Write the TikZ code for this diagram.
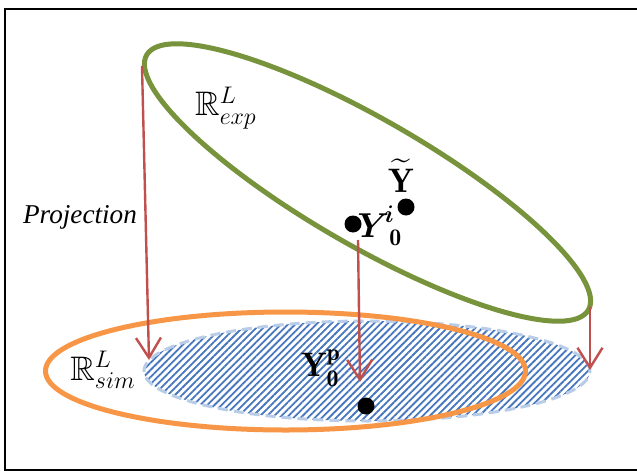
\documentclass[tikz,border=0pt]{standalone}
\usepackage{amsmath}
\usepackage{amssymb}
\usepackage{fontspec}
\newfontfamily\projfont{Liberation Serif}
\usetikzlibrary{arrows.meta,patterns.meta,positioning}
\definecolor{expgreen}{RGB}{119,147,60}
\definecolor{simorange}{RGB}{247,150,70}
\definecolor{projred}{RGB}{192,80,77}
\definecolor{hatchblue}{RGB}{70,118,190}
\definecolor{edgeblue}{RGB}{185,205,232}

\begin{document}
\begin{tikzpicture}[x=0.5pt,y=-0.5pt,
    proj/.style={projred,line width=1.2pt,-{Straight Barb[length=10pt,width=12.5pt]}},
    dot/.style={circle,fill=black,inner sep=0pt,minimum size=8.5pt},
    lab/.style={font=\fontsize{17}{20}\selectfont,inner sep=1pt}]
  \useasboundingbox (0,0) rectangle (637,471);
  \draw[line width=1pt] (5,9) rectangle (645,470);
  % simulated subspace
  \path[pattern={Lines[angle=45,distance=2.5pt,line width=0.9pt]},pattern color=hatchblue]
    (367,371) ellipse [x radius=111.5pt,y radius=25pt];
  \draw[edgeblue,line width=1.5pt,dash pattern=on 5pt off 3pt]
    (367,371) ellipse [x radius=111.5pt,y radius=25pt];
  \draw[simorange,line width=2.5pt] (285.5,371) ellipse [x radius=120pt,y radius=29.5pt];
  % experimental subspace
  \draw[expgreen,line width=2.5pt,rotate around={-30:(367.5,182.5)}]
    (367.5,182.5) ellipse [x radius=127.5pt,y radius=31.5pt];
  \node[lab] (rexp) at (226,108) {$\mathbb{R}^L_{exp}$};
  \node[lab] (rsim) at (103,370) {$\mathbb{R}^L_{sim}$};
  \node[dot] (y0i) at (353,224) {};
  \node[lab,inner sep=0pt,right=-2.5pt of y0i,yshift=-1pt] (y0ilab)
    {$\boldsymbol{Y}^{\mkern-4mu\boldsymbol{i}}_{\mathbf{0}}$};
  \node[dot] (ytd) at (406,207) {};
  \node[lab] (ytdlab) at (401,176) {$\widetilde{\mathbf{Y}}$};
  \node[dot] (y0p) at (366,406) {};
  \node[lab] (y0plab) at (321,368) {$\mathbf{Y}^{\mathbf{p}}_{\mathbf{0}}$};
  \node[font=\projfont\itshape\fontsize{13.6}{16}\selectfont] (projlab) at (80,217) {Projection};
  % projections
  \coordinate (expL) at (142,66);
  \coordinate (simL) at (149,360);
  \coordinate (expM) at (358,240);
  \coordinate (simM) at (360,382);
  \coordinate (expR) at (590,307);
  \coordinate (simR) at (590,370);
  \draw[proj] (expL) -- (simL);
  \draw[proj] (expM) -- (simM);
  \draw[proj] (expR) -- (simR);
\end{tikzpicture}
\end{document}
